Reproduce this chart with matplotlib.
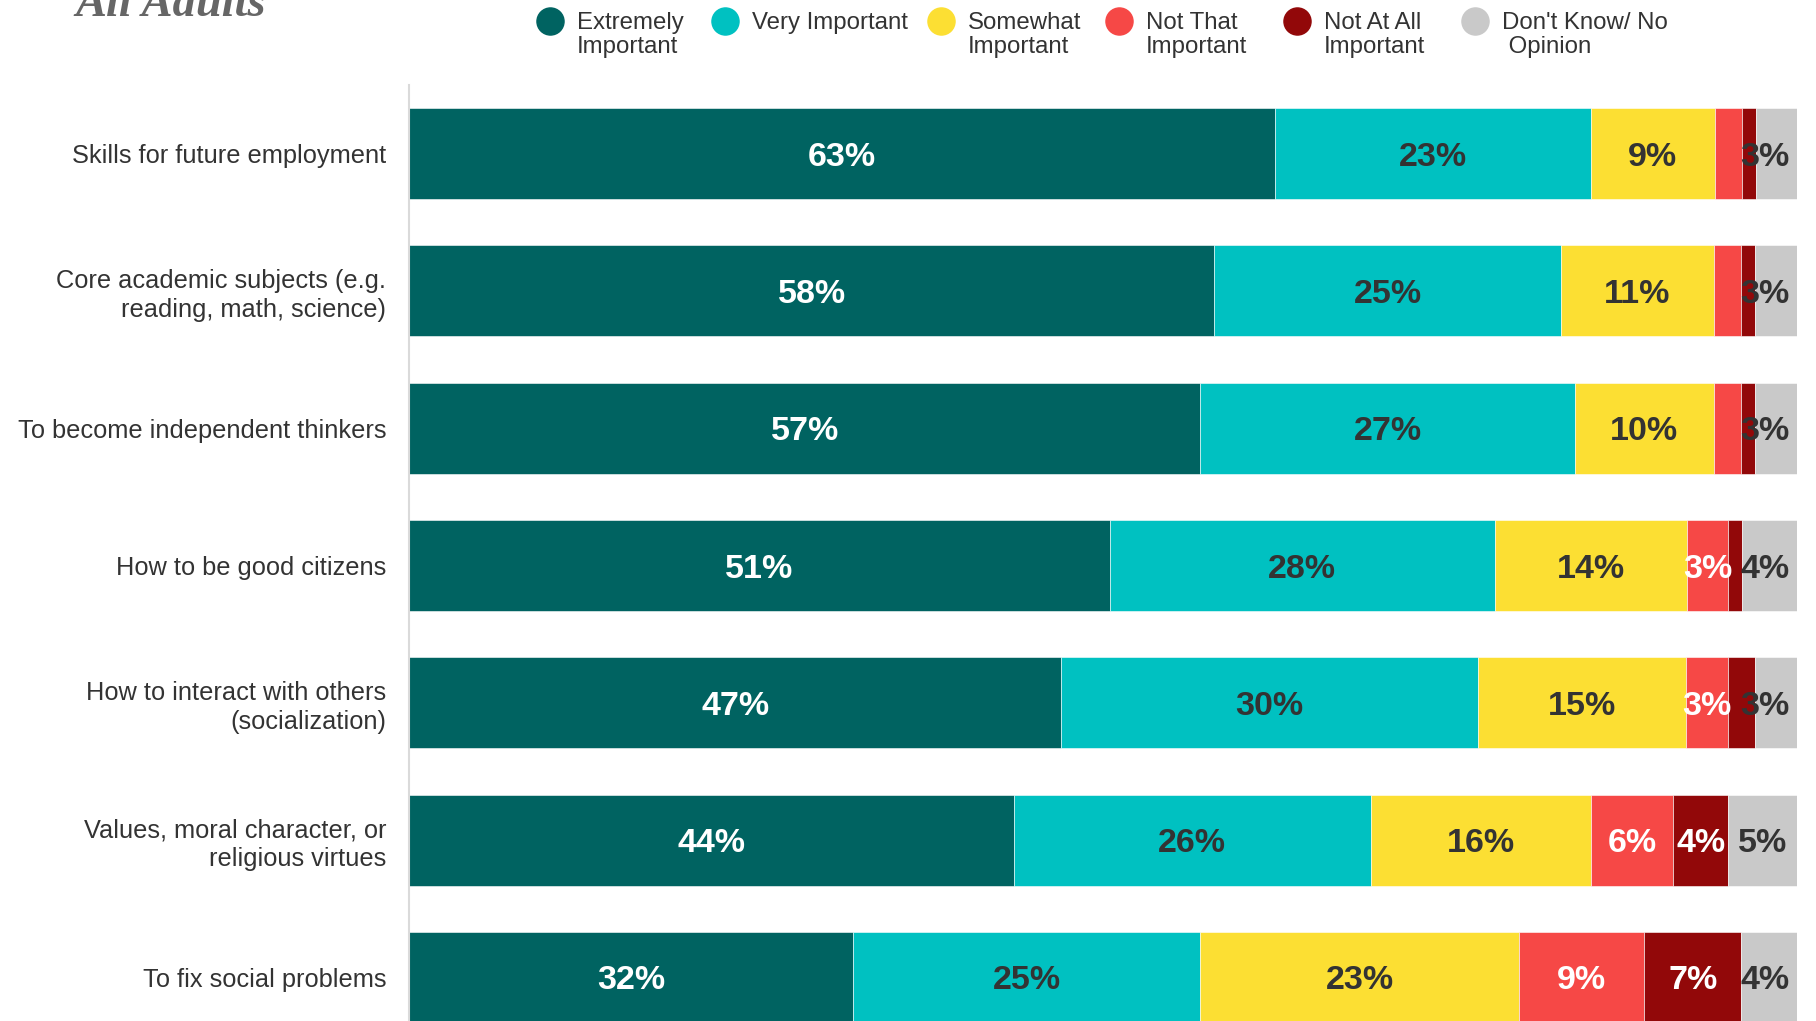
import numpy as np
import matplotlib.pyplot as plt
from matplotlib.lines import Line2D

plt.rcParams['font.family'] = ['Liberation Sans', 'DejaVu Sans']

# Items (top to bottom)
items = ['Skills for future employment',
         'Core academic subjects (e.g.\nreading, math, science)',
         'To become independent thinkers',
         'How to be good citizens',
         'How to interact with others\n(socialization)',
         'Values, moral character, or\nreligious virtues',
         'To fix social problems']

categories = ['Extremely\nImportant', 'Very Important', 'Somewhat\nImportant',
              'Not That\nImportant', 'Not At All\nImportant', "Don't Know/ No\n Opinion"]

# percentages
extremely = [63, 58, 57, 51, 47, 44, 32]
very = [23, 25, 27, 28, 30, 26, 25]
somewhat = [9, 11, 10, 14, 15, 16, 23]
not_that = [2, 2, 2, 3, 3, 6, 9]
not_at_all = [1, 1, 1, 1, 2, 4, 7]
dont_know = [3, 3, 3, 4, 3, 5, 4]

colors = ['#006361', '#00C1C1', '#FCDF33', '#F64846', '#920809', '#C9C9C9']
text_colors = ['white', '#333333', '#333333', 'white', 'white', '#333333']

W, H = 1816, 1021
fig = plt.figure(figsize=(W / 100, H / 100), dpi=100)
ax = fig.add_axes([409 / W, 0, (1797 - 409) / W, 1 - 85 / H])

data = np.array([extremely, very, somewhat, not_that, not_at_all, dont_know]).T
shares = data / data.sum(axis=1, keepdims=True) * 100
y = np.arange(len(items))

left = np.zeros(len(items))
for j in range(len(categories)):
    ax.barh(y, shares[:, j], left=left, height=0.663, color=colors[j],
            edgecolor='white', linewidth=0.4)
    for i in range(len(items)):
        v = data[i, j]
        if v < 3:
            continue
        x = left[i] + shares[i, j] / 2
        if j == len(categories) - 1:
            x = min(x, 97.7)
        ax.text(x, i, f'{v}%', ha='center', va='center_baseline', fontsize=24.5,
                fontweight='bold', color=text_colors[j])
    left += shares[:, j]

ax.set_xlim(0, 100)
ax.set_ylim(6.317, -0.5)
ax.set_yticks(y)
ax.set_yticklabels(items)
for lbl in ax.get_yticklabels():
    lbl.set_linespacing(1.22)
ax.tick_params(axis='y', length=0, pad=16.5, labelsize=18.3, labelcolor='#333333')
ax.set_xticks([])
for s in ['top', 'right', 'bottom']:
    ax.spines[s].set_visible(False)
ax.spines['left'].set_color('#DADADA')
ax.spines['left'].set_linewidth(1.5)

# legend drawn by hand so the markers sit on the first line
legend_x = [550, 725, 941, 1119, 1297, 1475]
for k, lab in enumerate(categories):
    fig.add_artist(Line2D([legend_x[k] / W], [1 - 20.7 / H], transform=fig.transFigure,
                          marker='o', markersize=19.5, color=colors[k], linestyle='none'))
    fig.text((legend_x[k] + 27) / W, 1 - 12 / H, lab, ha='left', va='top',
             fontsize=17.3, color='#333333', linespacing=1.1)

fig.text(75 / W, 1 - 15.5 / H, 'All Adults', fontsize=33.5, family='Liberation Serif',
         style='italic', weight='bold', color='#666666', va='baseline')

fig.savefig('out.png', dpi=100)
